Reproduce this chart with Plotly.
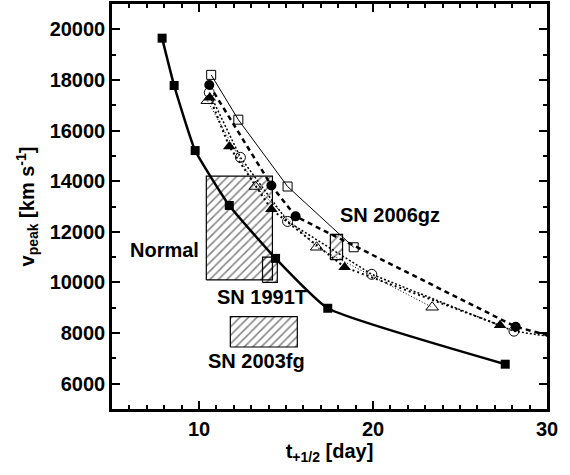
import plotly.graph_objects as go

# ---- data ----
sq_filled_x = [7.88, 8.57, 9.78, 11.74, 14.4, 17.4, 27.6]
sq_filled_y = [19650, 17780, 15210, 13040, 10950, 8980, 6770]

sq_open_x = [10.7, 12.26, 15.09, 18.89]
sq_open_y = [18200, 16430, 13790, 11390]

circ_filled_x = [10.59, 14.16, 15.55, 28.2, 31.0]
circ_filled_y = [17800, 13830, 12610, 8250, 7740]

circ_open_x = [10.59, 12.38, 15.09, 19.93, 28.1, 31.0]
circ_open_y = [17500, 14940, 12410, 10320, 8075, 7780]

tri_filled_x = [10.62, 11.74, 14.16, 18.37, 27.3]
tri_filled_y = [17300, 15370, 12890, 10600, 8310]

tri_open_x = [10.48, 13.24, 16.76, 23.4]
tri_open_y = [17180, 13790, 11390, 9020]

box_names = ["Normal", "SN 1991T", "SN 2006gz", "SN 2003fg"]
box_x0 = [10.42, 13.65, 17.55, 11.8]
box_x1 = [14.22, 14.5, 18.25, 15.65]
box_y0 = [10100, 10000, 10900, 7450]
box_y1 = [14200, 11000, 11900, 8650]

label_x = [8.0, 13.6, 20.97, 13.3]
label_y = [11270, 9420, 12650, 6890]

fig = go.Figure()

# hatched boxes
for x0, x1, y0, y1 in zip(box_x0, box_x1, box_y0, box_y1):
    fig.add_trace(go.Scatter(
        x=[x0, x1, x1, x0, x0], y=[y0, y0, y1, y1, y0],
        mode="lines", fill="toself", fillcolor="rgba(255,255,255,0)",
        fillpattern=dict(shape="/", fgcolor="black", bgcolor="rgba(255,255,255,0)", size=6, solidity=0.25),
        line=dict(color="black", width=1.2), showlegend=False, hoverinfo="skip"))

fig.add_trace(go.Scatter(x=sq_open_x, y=sq_open_y, mode="lines+markers",
    line=dict(color="black", width=1),
    marker=dict(symbol="square-open", size=9, color="black", line=dict(width=1)),
    showlegend=False))
fig.add_trace(go.Scatter(x=circ_filled_x, y=circ_filled_y, mode="lines+markers",
    line=dict(color="black", width=2.5, dash="5px,4px"),
    marker=dict(symbol="circle", size=10, color="black"),
    showlegend=False))
fig.add_trace(go.Scatter(x=circ_open_x, y=circ_open_y, mode="lines+markers",
    line=dict(color="black", width=1.5, dash="2px,2px"),
    marker=dict(symbol="circle-open", size=10, color="black", line=dict(width=1)),
    showlegend=False))
fig.add_trace(go.Scatter(x=tri_filled_x, y=tri_filled_y, mode="lines+markers",
    line=dict(color="black", width=2, dash="2px,3px"),
    marker=dict(symbol="triangle-up", size=11, color="black"),
    showlegend=False))
fig.add_trace(go.Scatter(x=tri_open_x, y=tri_open_y, mode="lines+markers",
    line=dict(color="black", width=1, dash="1px,2px"),
    marker=dict(symbol="triangle-up-open", size=11, color="black", line=dict(width=1)),
    showlegend=False))
fig.add_trace(go.Scatter(x=sq_filled_x, y=sq_filled_y, mode="lines+markers",
    line=dict(color="black", width=2.5, shape="spline", smoothing=0.4),
    marker=dict(symbol="square", size=9, color="black"),
    showlegend=False))

font = "Liberation Sans, Arial, sans-serif"
for name, lx, ly in zip(box_names, label_x, label_y):
    fig.add_annotation(x=lx, y=ly, text="<b>%s</b>" % name, showarrow=False,
                       font=dict(size=20, color="black", family=font))

axis_common = dict(
    showgrid=False, zeroline=False, showline=True, linecolor="black", linewidth=2.5,
    mirror="allticks", ticks="inside", ticklen=8, tickwidth=2, tickcolor="black",
    tickfont=dict(size=20, color="black", family=font), tickformat="d",
)
fig.update_xaxes(range=[5, 30], dtick=10, tick0=0,
                 minor=dict(dtick=1, ticks="inside", ticklen=4, tickwidth=1.5, tickcolor="black"),
                 title=dict(text="<b>t<sub>+1/2</sub> [day]</b>", font=dict(size=20, color="black", family=font), standoff=4),
                 tickprefix="<b>", ticksuffix="</b>", **axis_common)
fig.update_yaxes(range=[5000, 21000], dtick=2000, tick0=0,
                 minor=dict(dtick=1000, ticks="inside", ticklen=4, tickwidth=1.5, tickcolor="black"),
                 title=dict(text="<b>v<sub>peak</sub> [km s<sup>-1</sup>]</b>", font=dict(size=20, color="black", family=font), standoff=10),
                 tickprefix="<b>", ticksuffix="</b>", **axis_common)

fig.update_layout(width=570, height=475, margin=dict(l=112, r=23, t=4, b=66, autoexpand=False),
                  plot_bgcolor="white", paper_bgcolor="white",
                  font=dict(family=font, color="black"))
fig.write_html("out.html", config={"displayModeBar": False},
               post_script="document.body.style.margin='0';document.body.style.overflow='hidden';")
